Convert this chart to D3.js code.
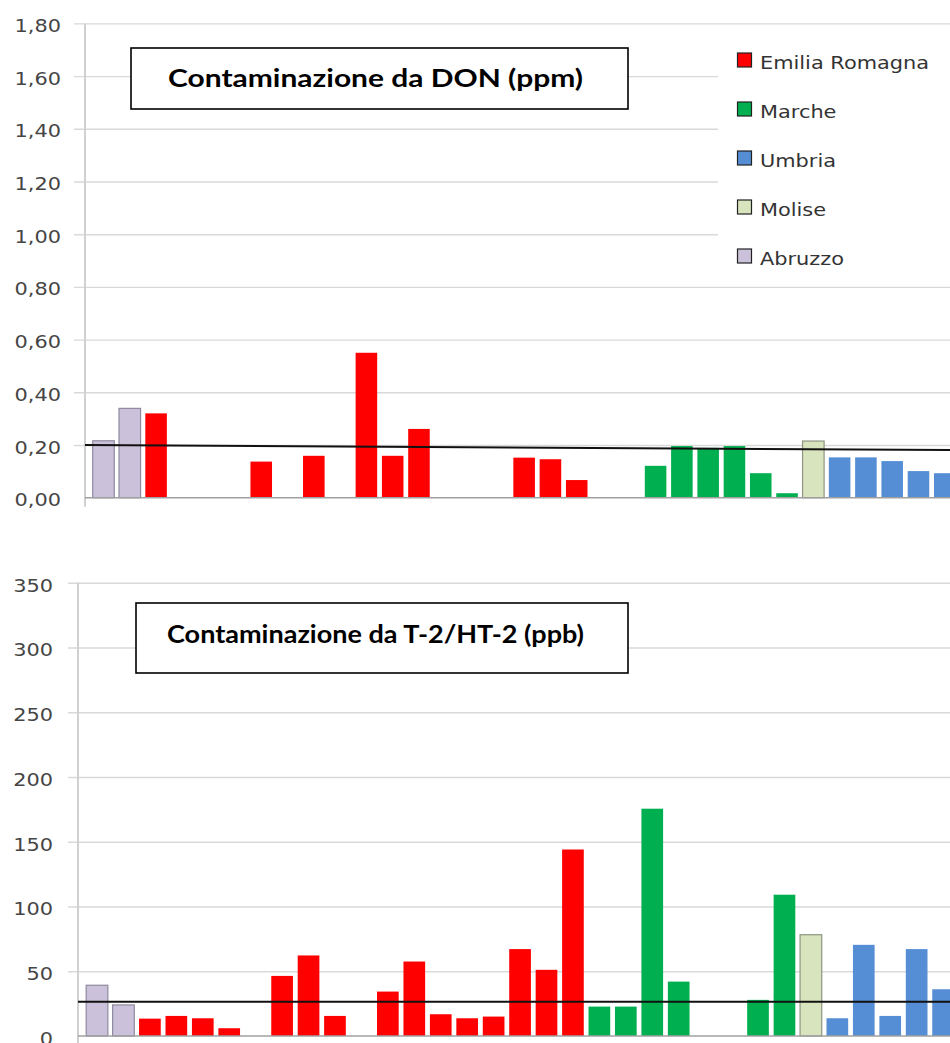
<!DOCTYPE html>
<html><head><meta charset="utf-8">
<script src="https://cdn.jsdelivr.net/npm/d3@7"></script>
<style>body{margin:0;background:#fff}svg{display:block}</style>
</head><body><svg id="c" width="950" height="1043"></svg>
<script>
// ---------- DATA ----------
const samples = ["1","2","3","4","5","6","7","8","9","10","11","12","13","14","15","16","17",
  "18","19","20","21","22","23","24","25","26","27","28","29","30","31","32","33"];
const regionCodes = ["ER","MA","UM","MO","AB"];
const regionNames = ["Emilia Romagna","Marche","Umbria","Molise","Abruzzo"];
const regionColors = ["#ff0000","#00b050","#558ed5","#d7e4bd","#ccc1da"];
const regionStrokes = ["none","none","none","#8e9580","#8e8a9e"];

// DON (ppm)
const donRegion = ["AB","AB","ER","ER","ER","ER","ER","ER","ER","ER","ER","ER","ER","ER","ER","ER","ER",
  "ER","ER","ER","ER","MA","MA","MA","MA","MA","MA","MO","UM","UM","UM","UM","UM"];
const donValues = [0.216,0.339,0.320,null,null,null,0.137,null,0.159,null,0.550,0.159,0.261,null,null,null,0.152,
  0.146,0.067,null,null,0.121,0.196,0.189,0.196,0.093,0.017,0.215,0.153,0.153,0.139,0.101,0.093];
const donTicks = [0,0.2,0.4,0.6,0.8,1.0,1.2,1.4,1.6,1.8];
const donTrend = [0.200,0.181];
const donTitle = "Contaminazione da DON (ppm)";

// T-2/HT-2 (ppb)
const t2Region = ["AB","AB","ER","ER","ER","ER","ER","ER","ER","ER","ER","ER","ER","ER","ER","ER","ER",
  "ER","ER","MA","MA","MA","MA","MA","MA","MA","MA","MO","UM","UM","UM","UM","UM"];
const t2Values = [39.2,24.0,13.4,15.5,13.7,6.0,null,46.4,62.2,15.5,null,34.3,57.5,16.8,13.7,15.0,67.1,
  51.1,144.0,22.7,22.7,175.5,42.0,null,null,27.9,109.1,78.2,13.7,70.4,15.5,67.1,36.1];
const t2Ticks = [0,50,100,150,200,250,300,350];
const t2Trend = [26.5,26.5];
const t2Title = "Contaminazione da T-2/HT-2 (ppb)";

// ---------- DRAW ----------
const svg = d3.select("#c");
const W = 950;
const SX = 1.16; // horizontal stretch of the original picture
const itLocale = d3.formatLocale({decimal:",", thousands:".", grouping:[3], currency:["","€"]});

function panel(cfg) {
  const g = svg.append("g");
  const y = d3.scaleLinear().domain(cfg.domain).range([cfg.yBase, cfg.yTop]);
  const x = d3.scaleBand().domain(samples)
    .range([cfg.bandX0, cfg.bandX0 + cfg.step * samples.length])
    .paddingInner(0.18).paddingOuter(0.09);

  // gridlines + tick labels via axis
  const ax = d3.axisLeft(y).tickValues(cfg.ticks)
    .tickSizeInner(-(W - cfg.tickX0)).tickSizeOuter(0).tickPadding(cfg.pad)
    .tickFormat(cfg.fmt);
  const ag = g.append("g").attr("transform", `translate(${cfg.tickX0},0)`).call(ax);
  ag.select(".domain").remove();
  ag.selectAll(".tick line").attr("stroke", "#d9d9d9").attr("stroke-width", 1.4)
    .filter(d => d === 0).remove();
  ag.selectAll(".tick text")
    .attr("x", 0).attr("dy", null).attr("y", cfg.labelDy)
    .attr("transform", `translate(${-cfg.pad},0) scale(${SX},1)`)
    .attr("fill", "#454545").style("font-family", "DejaVu Sans")
    .style("font-size", "18px");

  // vertical axis line
  g.append("line").attr("x1", cfg.axisX).attr("x2", cfg.axisX)
    .attr("y1", cfg.yTop).attr("y2", cfg.yBase + 9)
    .attr("stroke", "#d0d0d0").attr("stroke-width", 2);

  // legend background (covers gridlines)
  if (cfg.legend) {
    g.append("rect").attr("x", 718).attr("y", 36).attr("width", W - 718).attr("height", 240).attr("fill", "#fff");
  }

  // bars
  const data = samples.map((s, i) => ({s, v: cfg.values[i], r: regionCodes.indexOf(cfg.region[i])}))
    .filter(d => d.v !== null);
  g.append("g").selectAll("rect").data(data).join("rect")
    .attr("x", d => x(d.s)).attr("width", x.bandwidth())
    .attr("y", d => y(d.v)).attr("height", d => y(0) - y(d.v))
    .attr("fill", d => regionColors[d.r])
    .attr("stroke", d => regionStrokes[d.r]).attr("stroke-width", 1.2);

  // baseline
  g.append("line").attr("x1", cfg.axisX).attr("x2", W)
    .attr("y1", y(0)).attr("y2", y(0)).attr("stroke", "#a0a0a0").attr("stroke-width", 1.5);

  // reference trend line
  const tx = d3.scaleLinear().domain([0, 1]).range([cfg.axisX, W]);
  g.append("path").datum(cfg.trend)
    .attr("d", d3.line().x((d, i) => tx(i)).y(d => y(d)))
    .attr("stroke", "#111").attr("stroke-width", 2).attr("fill", "none");

  // title box
  const tb = cfg.titleBox;
  g.append("rect").attr("x", tb[0]).attr("y", tb[1]).attr("width", tb[2]).attr("height", tb[3])
    .attr("fill", "#fff").attr("stroke", "#000").attr("stroke-width", 1.6);
  g.append("text").attr("x", cfg.titleX).attr("y", cfg.titleY)
    .attr("textLength", cfg.titleW).attr("lengthAdjust", "spacingAndGlyphs")
    .style("font-family", "Lato").style("font-weight", "bold").style("font-size", "24px")
    .attr("fill", "#000").text(cfg.title);

  if (cfg.legend) {
    const lg = g.append("g");
    regionNames.forEach((name, i) => {
      const cy = 60 + i * 49;
      lg.append("rect").attr("x", 737.5).attr("y", cy - 7).attr("width", 14).attr("height", 14)
        .attr("fill", regionColors[i]).attr("stroke", "#222").attr("stroke-width", 1.2);
      lg.append("text").attr("transform", `translate(760,${cy + 9}) scale(${SX},1)`)
        .style("font-family", "DejaVu Sans").style("font-size", "18px")
        .attr("fill", "#333").text(name);
    });
  }
}

panel({
  domain: [0, 1.8], ticks: donTicks, values: donValues, region: donRegion, trend: donTrend,
  fmt: itLocale.format(".2f"),
  yTop: 23.4, yBase: 497.7, axisX: 85, tickX0: 74, pad: 13, labelDy: 8,
  bandX0: 90.35, step: 26.29, legend: true,
  titleBox: [131, 48, 497, 61], title: donTitle, titleX: 168, titleY: 87, titleW: 415
});
panel({
  domain: [0, 350], ticks: t2Ticks, values: t2Values, region: t2Region, trend: t2Trend,
  fmt: itLocale.format("d"),
  yTop: 582.7, yBase: 1036, axisX: 78, tickX0: 68, pad: 15, labelDy: 8.5,
  bandX0: 83.8, step: 26.44, legend: false,
  titleBox: [136, 603, 492, 70], title: t2Title, titleX: 167, titleY: 643, titleW: 417
});
</script>
</body></html>
